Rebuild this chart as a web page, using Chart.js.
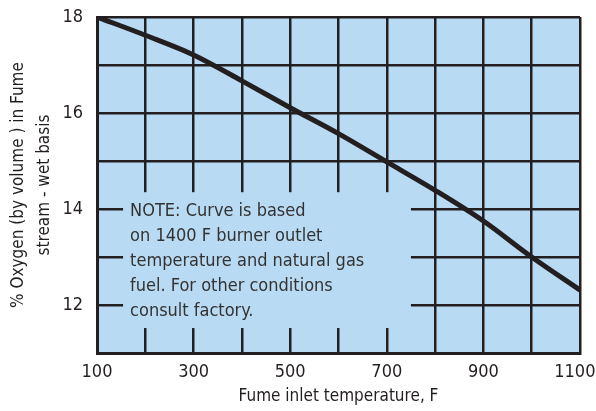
<!DOCTYPE html>
<html>
<head>
<meta charset="utf-8">
<script src="https://cdn.jsdelivr.net/npm/chart.js@4"></script>
<style>
  html, body { margin: 0; padding: 0; background: #fff; }
  #wrap { width: 596px; height: 411px; }
</style>
</head>
<body>
<div id="wrap"><canvas id="myChart" width="596" height="411"></canvas></div>
<script>
const temps = [100, 200, 300, 400, 500, 600, 700, 800, 900, 1000, 1100];
const oxygen = [18.0, 17.62, 17.21, 16.67, 16.11, 15.57, 14.98, 14.39, 13.75, 13.0, 12.31];
const xLabels = [100, 300, 500, 700, 900, 1100];
const yLabels = [12, 14, 16, 18];
const noteLines = [
    'NOTE: Curve is based',
    'on 1400 F burner outlet',
    'temperature and natural gas',
    'fuel. For other conditions',
    'consult factory.'
];

const fontFam = '"DejaVu Sans Condensed", "Liberation Sans Narrow", sans-serif';
const ink = '#231f20';
const blue = 'rgb(184, 218, 242)';

// blue plot background
const bgPlugin = {
    id: 'bg',
    beforeDraw(chart) {
        const a = chart.chartArea;
        const ctx = chart.ctx;
        ctx.save();
        ctx.fillStyle = blue;
        ctx.fillRect(a.left, a.top, a.right - a.left, a.bottom - a.top);
        ctx.restore();
    }
};

// note box covers the grid
const notePlugin = {
    id: 'note',
    beforeDatasetsDraw(chart) {
        const ctx = chart.ctx;
        const x = chart.scales.x, y = chart.scales.y;
        const l = x.getPixelForValue(154), r = x.getPixelForValue(750);
        const t = y.getPixelForValue(14.35), b = y.getPixelForValue(11.52);
        ctx.save();
        ctx.fillStyle = blue;
        ctx.fillRect(l, t, r - l, b - t);
        ctx.fillStyle = '#333';
        ctx.font = '18px ' + fontFam;
        ctx.textBaseline = 'middle';
        noteLines.forEach((s, i) => {
            ctx.fillText(s, l + 7, t + 19 + i * 25);
        });
        ctx.restore();
    }
};

const data = {
    labels: temps,
    datasets: [{
        label: 'Oxygen',
        data: temps.map((t, i) => ({ x: t, y: oxygen[i] })),
        borderColor: ink,
        borderWidth: 5,
        pointRadius: 0,
        cubicInterpolationMode: 'monotone',
        fill: false
    }]
};

const config = {
    type: 'line',
    data: data,
    plugins: [bgPlugin, notePlugin],
    options: {
        responsive: false,
        animation: false,
        layout: { padding: { top: 17, right: 16, left: 6, bottom: 0 } },
        plugins: { legend: { display: false }, tooltip: { enabled: false } },
        scales: {
            x: {
                type: 'linear',
                min: 100,
                max: 1100,
                ticks: {
                    stepSize: 100,
                    autoSkip: false,
                    maxRotation: 0,
                    color: ink,
                    padding: 9,
                    font: { family: fontFam, size: 18 },
                    // last label pushed left a little so it stays on the page
                    callback: v => v === 1100 ? '1100\u00a0\u00a0' : (xLabels.includes(v) ? String(v) : '')
                },
                grid: { color: ink, lineWidth: 2.5, drawTicks: false },
                border: { color: ink, width: 3 },
                title: {
                    display: true,
                    text: 'Fume inlet temperature, F',
                    color: ink,
                    font: { family: fontFam, size: 17 },
                    padding: { top: 4 }
                },
                afterFit(s) {
                    s.height = 58;
                    s.paddingLeft = 0;
                    s.paddingRight = 0;
                }
            },
            y: {
                min: 11,
                max: 18,
                ticks: {
                    stepSize: 1,
                    color: ink,
                    padding: 14,
                    font: { family: fontFam, size: 18 },
                    callback: v => yLabels.includes(v) ? String(v) : ''
                },
                grid: { color: ink, lineWidth: 2.5, drawTicks: false },
                border: { color: ink, width: 3 },
                title: {
                    display: true,
                    text: ['% Oxygen (by volume ) in Fume', 'stream - wet basis'],
                    color: ink,
                    font: { family: fontFam, size: 17, lineHeight: 1.5 },
                    padding: { top: 0, bottom: 0 }
                },
                afterFit(s) {
                    s.width = 91;
                    s.paddingTop = 0;
                    s.paddingBottom = 0;
                }
            }
        }
    }
};

const myChart = new Chart(document.getElementById('myChart'), config);
</script>
</body>
</html>
